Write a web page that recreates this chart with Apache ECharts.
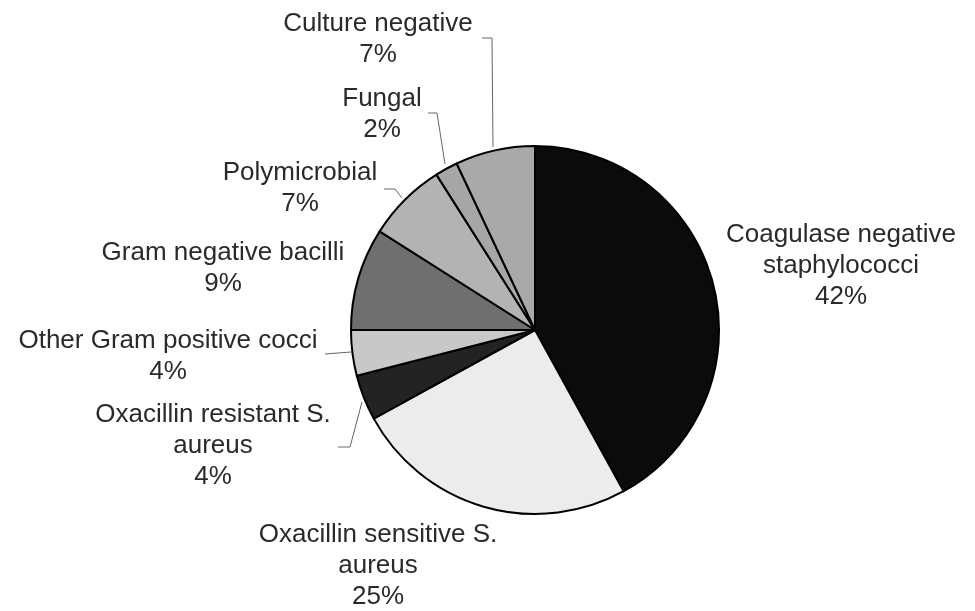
<!DOCTYPE html>
<html>
<head>
<meta charset="utf-8">
<script src="https://cdn.jsdelivr.net/npm/echarts@6/dist/echarts.min.js"></script>
<style>
  html, body { margin: 0; padding: 0; background: #fff; }
  #main { width: 975px; height: 611px; }
</style>
</head>
<body>
<div id="main"></div>
<script>
// 分类与数值（百分比）
const categories = [
  'Coagulase negative\nstaphylococci',
  'Oxacillin sensitive S.\naureus',
  'Oxacillin resistant S.\naureus',
  'Other Gram positive cocci',
  'Gram negative bacilli',
  'Polymicrobial',
  'Fungal',
  'Culture negative'
]
const values = [42, 25, 4, 4, 9, 7, 2, 7]

// 扇区颜色（灰度）
const colors = ['#0b0b0b', '#ececec', '#232323', '#c8c8c8', '#6f6f6f', '#b3b3b3', '#a6a6a6', '#a9a9a9']

// 标签位置（中心点）与引导线
const labelPos = [
  [841, 266], [378, 566], [213, 446], [168, 356],
  [223, 268], [300, 188], [382, 114], [378, 39]
]
const leaderLines = [
  null,
  null,
  [[362, 402], [350, 447], [338, 447]],
  [[351, 352], [338, 353], [325, 354]],
  null,
  [[402, 198], [395, 189], [384, 189]],
  [[445, 164], [437, 113], [428, 113]],
  [[493, 147], [492, 38], [482, 38]]
]

const data = categories.map((name, i) => ({
  name,
  value: values[i],
  itemStyle: { color: colors[i] },
  labelLine: { show: leaderLines[i] !== null }
}))

const chart = echarts.init(document.getElementById('main'))
const option = {
  backgroundColor: '#fff',
  animation: false,
  series: [{
    type: 'pie',
    center: [535, 330],
    radius: 184,
    startAngle: 90,
    clockwise: true,
    avoidLabelOverlap: false,
    itemStyle: { borderColor: '#000', borderWidth: 2 },
    label: {
      show: true,
      position: 'outside',
      formatter: p => p.name + '\n' + p.value + '%',
      fontFamily: 'Liberation Sans, Arial, sans-serif',
      fontSize: 26,
      lineHeight: 31,
      color: '#2a2a2a',
      align: 'center'
    },
    labelLine: {
      lineStyle: { color: '#666', width: 1 }
    },
    labelLayout: function (params) {
      const i = params.dataIndex
      const out = {
        x: labelPos[i][0],
        y: labelPos[i][1],
        align: 'center',
        verticalAlign: 'middle'
      }
      if (leaderLines[i]) out.labelLinePoints = leaderLines[i]
      return out
    },
    data
  }]
}
chart.setOption(option)
window.addEventListener('resize', chart.resize)
</script>
</body>
</html>
